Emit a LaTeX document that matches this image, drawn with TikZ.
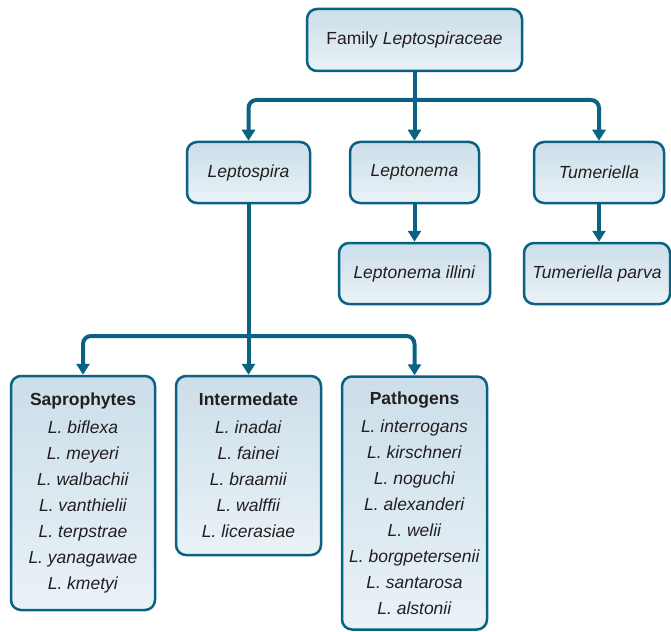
\documentclass[tikz,border=0pt]{standalone}
\usepackage{fontspec}
\setmainfont{Liberation Sans}
\usetikzlibrary{arrows.meta}
\definecolor{linkblue}{RGB}{10,98,130}
\definecolor{boxtop}{RGB}{203,222,233}
\definecolor{boxbot}{RGB}{234,242,247}
\definecolor{ink}{RGB}{35,31,32}
\begin{document}
\begin{tikzpicture}[x=1pt, y=-1pt,
    box/.style = {draw=linkblue, line width=2.5pt, rounded corners=10pt,
      top color=boxtop, bottom color=boxbot, text=ink, align=center,
      font=\fontsize{17.5}{26}\selectfont, inner sep=0pt},
    link/.style = {draw=linkblue, line width=4pt, -{Triangle[width=13pt,length=11pt]}},
    fork/.style = {link, {Triangle[width=13pt,length=11pt]}-{Triangle[width=13pt,length=11pt]},
      rounded corners=8pt}]
    \useasboundingbox (0, 0) rectangle (671, 631);

    \node (fam) at (414.5, 40) [box, minimum width=215pt, minimum height=62pt] {Family \textit{Leptospiraceae}};

    \node (lspira) at (248.5, 172.5) [box, minimum width=123pt, minimum height=61pt] {\textit{Leptospira}};
    \node (lnema) at (414.5, 172.5) [box, minimum width=129pt, minimum height=61pt] {\textit{Leptonema}};
    \node (tum) at (599, 172.5) [box, minimum width=130pt, minimum height=61pt] {\textit{Tumeriella}};

    \node (illini) at (414.5, 273.5) [box, minimum width=151pt, minimum height=61pt] {\textit{Leptonema illini}};
    \node (parva) at (597, 273.5) [box, minimum width=146pt, minimum height=61pt] {\textit{Tumeriella parva}};

    \node (sapro) at (83, 493) [box, minimum width=144pt, minimum height=234pt]
      {\textbf{Saprophytes}\\[2pt] \textit{L. biflexa}\\ \textit{L. meyeri}\\ \textit{L. walbachii}\\
       \textit{L. vanthielii}\\ \textit{L. terpstrae}\\ \textit{L. yanagawae}\\ \textit{L. kmetyi}};
    \node (inter) at (248.5, 465.5) [box, minimum width=145pt, minimum height=179pt]
      {\textbf{Intermedate}\\[2pt] \textit{L. inadai}\\ \textit{L. fainei}\\ \textit{L. braamii}\\
       \textit{L. walffii}\\ \textit{L. licerasiae}};
    \node (patho) at (414.5, 503) [box, minimum width=145pt, minimum height=253pt]
      {\textbf{Pathogens}\\[2pt] \textit{L. interrogans}\\ \textit{L. kirschneri}\\ \textit{L. noguchi}\\
       \textit{L. alexanderi}\\ \textit{L. welii}\\ \textit{L. borgpetersenii}\\
       \textit{L. santarosa}\\ \textit{L. alstonii}};

    \coordinate (topbar) at (414.5, 100);
    \coordinate (lowbar) at (248.5, 336);

    \draw [link] (fam) -- (lnema);
    \draw [fork] (lspira.north) |- (topbar) -| (tum.north);
    \draw [link] (lnema) -- (illini);
    \draw [link] (tum) -- (tum |- parva.north);
    \draw [link] (lspira) -- (inter);
    \draw [fork] (sapro.north) |- (lowbar) -| (patho.north);
\end{tikzpicture}
\end{document}
